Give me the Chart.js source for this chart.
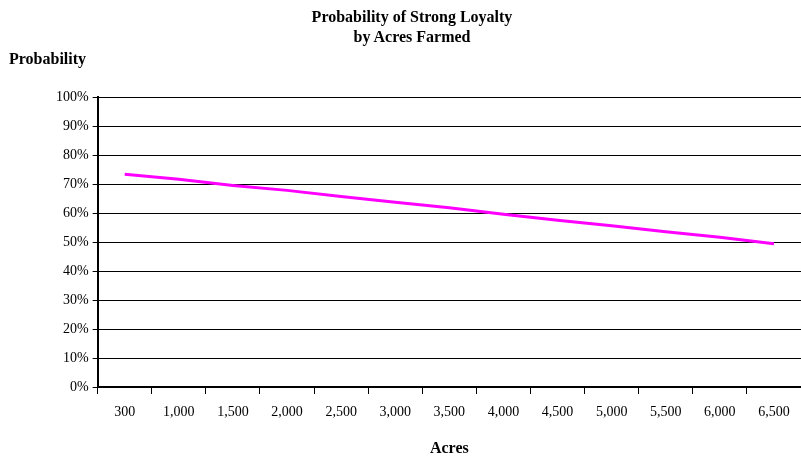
<!DOCTYPE html>
<html lang="en">
<head>
    <meta charset="UTF-8">
    <title>Probability of Strong Loyalty by Acres Farmed</title>
    <script src="https://cdn.jsdelivr.net/npm/chart.js"></script>
    <style>
        body {
            margin: 0;
            background: #ffffff;
            overflow: hidden;
        }
        #wrap {
            position: relative;
            width: 801px;
            height: 462px;
        }
        .label {
            position: absolute;
            font-family: "Liberation Serif", serif;
            font-weight: bold;
            font-size: 16px;
            color: #000;
            white-space: nowrap;
        }
        #chartTitle {
            left: 262px;
            width: 300px;
            top: 7px;
            text-align: center;
            line-height: 20px;
        }
        #yTitle {
            left: 9px;
            top: 50px;
        }
    </style>
</head>
<body>
    <div id="wrap">
        <canvas id="loyaltyChart" width="801" height="462"></canvas>
        <div id="chartTitle" class="label">Probability of Strong Loyalty<br>by Acres Farmed</div>
        <div id="yTitle" class="label">Probability</div>
    </div>

    <script>
        // Data
        const acres = ['300', '1,000', '1,500', '2,000', '2,500', '3,000', '3,500',
                       '4,000', '4,500', '5,000', '5,500', '6,000', '6,500'];
        const probability = [73.4, 71.6, 69.5, 67.8, 65.7, 63.7, 61.8,
                             59.6, 57.5, 55.6, 53.5, 51.6, 49.4];
        const yTicks = [0, 10, 20, 30, 40, 50, 60, 70, 80, 90, 100];

        const serif = '"Liberation Serif", "Times New Roman", serif';

        const ctx = document.getElementById('loyaltyChart').getContext('2d');
        new Chart(ctx, {
            type: 'line',
            data: {
                labels: acres,
                datasets: [{
                    label: 'Probability',
                    data: probability,
                    borderColor: '#ff00ff',
                    borderWidth: 3,
                    pointRadius: 0,
                    tension: 0,
                    fill: false
                }]
            },
            options: {
                responsive: false,
                animation: false,
                layout: {
                    padding: { left: 52, right: 0, top: 97, bottom: 4 }
                },
                plugins: {
                    legend: { display: false },
                    tooltip: { enabled: false }
                },
                scales: {
                    x: {
                        offset: true,
                        grid: {
                            offset: true,
                            drawOnChartArea: false,
                            color: '#000',
                            tickLength: 7,
                            tickColor: '#000'
                        },
                        border: { color: '#000', width: 2 },
                        ticks: {
                            color: '#000',
                            font: { family: serif, size: 14 },
                            padding: 10,
                            maxRotation: 0,
                            autoSkip: false
                        },
                        title: {
                            display: true,
                            text: 'Acres',
                            color: '#000',
                            font: { family: serif, size: 16, weight: 'bold' },
                            padding: { top: 8, bottom: 0 }
                        }
                    },
                    y: {
                        min: 0,
                        max: 100,
                        afterBuildTicks: axis => {
                            axis.ticks = yTicks.map(v => ({ value: v }));
                        },
                        grid: {
                            color: '#000',
                            lineWidth: 1,
                            tickLength: 5,
                            tickColor: '#000'
                        },
                        border: { color: '#000', width: 2 },
                        ticks: {
                            color: '#000',
                            font: { family: serif, size: 14 },
                            padding: 4,
                            callback: v => v + '%'
                        }
                    }
                }
            }
        });
    </script>
</body>
</html>
